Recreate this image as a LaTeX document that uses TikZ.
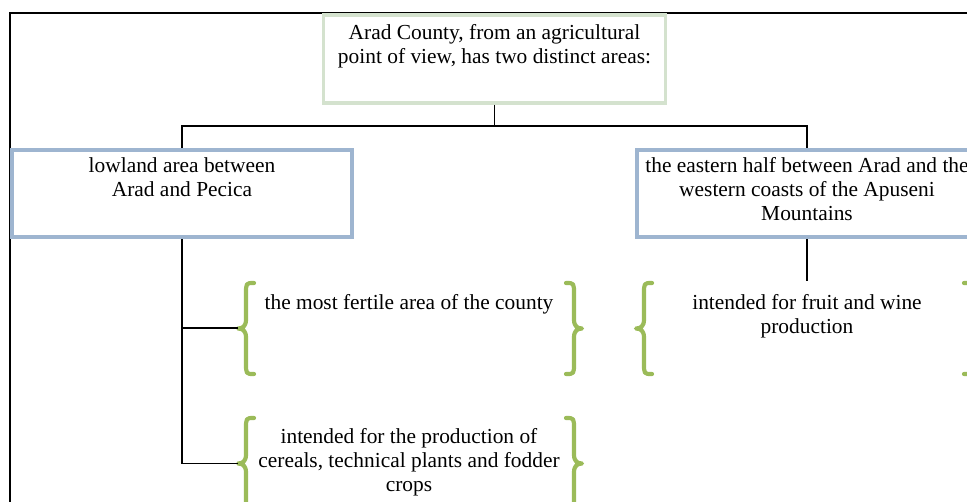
\documentclass[tikz,border=0pt]{standalone}
\usepackage{fontspec}
\setmainfont{Liberation Serif}
\definecolor{topgreen}{RGB}{212,226,206}
\definecolor{boxblue}{RGB}{158,181,208}
\definecolor{bracegreen}{RGB}{155,187,89}
\newcommand{\mybrace}[5]{% xe xs xt yt yb
  \pgfmathsetmacro{\ym}{(#4+#5)/2}
  \pgfmathsetmacro{\xq}{#2+0.45*(#3-#2)}
  \draw[brc] (#1,#4) .. controls (#2,#4) .. (#2,#4+11) -- (#2,\ym-9) .. controls (#2,\ym-2) and (\xq,\ym) .. (#3,\ym) .. controls (\xq,\ym) and (#2,\ym+2) .. (#2,\ym+9) -- (#2,#5-11) .. controls (#2,#5) .. (#1,#5);}
\begin{document}
\begin{tikzpicture}[x=1pt,y=-1pt,
  conn/.style={line width=1.9pt,black},
  topbox/.style={draw=topgreen,line width=3.5pt,minimum width=342pt,minimum height=88pt,inner sep=0pt},
  areabox/.style={draw=boxblue,line width=3.5pt,minimum width=340pt,minimum height=87pt,inner sep=0pt},
  txt/.style={align=center,inner sep=0pt,font=\fontsize{21.4}{24}\selectfont,anchor=north},
  brc/.style={draw=bracegreen,line width=4.2pt,line cap=round,line join=round}]
\useasboundingbox (0,0) rectangle (967,501);
\begin{scope}
\clip (0,0) rectangle (967,501);
% outer frame
\coordinate (fTL) at (10,13);
\coordinate (fTR) at (970,13);
\coordinate (fBL) at (10,505);
\draw[conn] (fBL) -- (fTL) -- (fTR);
% nodes
\node[topbox,fill=white] (top) at (494.5,59) {};
\node[txt] (toptxt) at (494.5,24) {Arad County, from an agricultural\\point of view, has two distinct areas:};
\node[areabox,fill=white] (low) at (182,193.5) {};
\node[txt] (lowtxt) at (182,157) {lowland area between\\Arad and Pecica};
\node[areabox,fill=white] (east) at (807,193.5) {};
\node[txt] (easttxt) at (807,157) {the eastern half between Arad and the\\western coasts of the Apuseni\\Mountains};
% connectors
\coordinate (jL) at (182,126);
\coordinate (jR) at (807,126);
\draw[conn] (top.south) |- (jL) -- (low.north);
\draw[conn] (top.south) |- (jR) -- (east.north);
% braces
\mybrace{254}{246}{238}{283}{374}
\mybrace{566}{574}{582}{283}{374}
\mybrace{254}{246}{238}{418}{509}
\mybrace{566}{574}{582}{418}{509}
\mybrace{652}{644}{636}{283}{374}
\mybrace{964}{972}{980}{283}{374}
\coordinate (b1) at (238,328);
\coordinate (b2) at (238,463.5);
\coordinate (b3) at (807,281);
\coordinate (s1) at (182,328);
\coordinate (s2) at (182,463.5);
\node[txt] (t1) at (409,294) {the most fertile area of the county};
\node[txt] (t2) at (409,428) {intended for the production of\\cereals, technical plants and fodder\\crops};
\node[txt] (t3) at (807,294) {intended for fruit and wine\\production};
\draw[conn] (low.south) -- (s2) -- (b2);
\draw[conn] (s1) -- (b1);
\draw[conn] (east.south) -- (b3);
\end{scope}
\end{tikzpicture}
\end{document}
